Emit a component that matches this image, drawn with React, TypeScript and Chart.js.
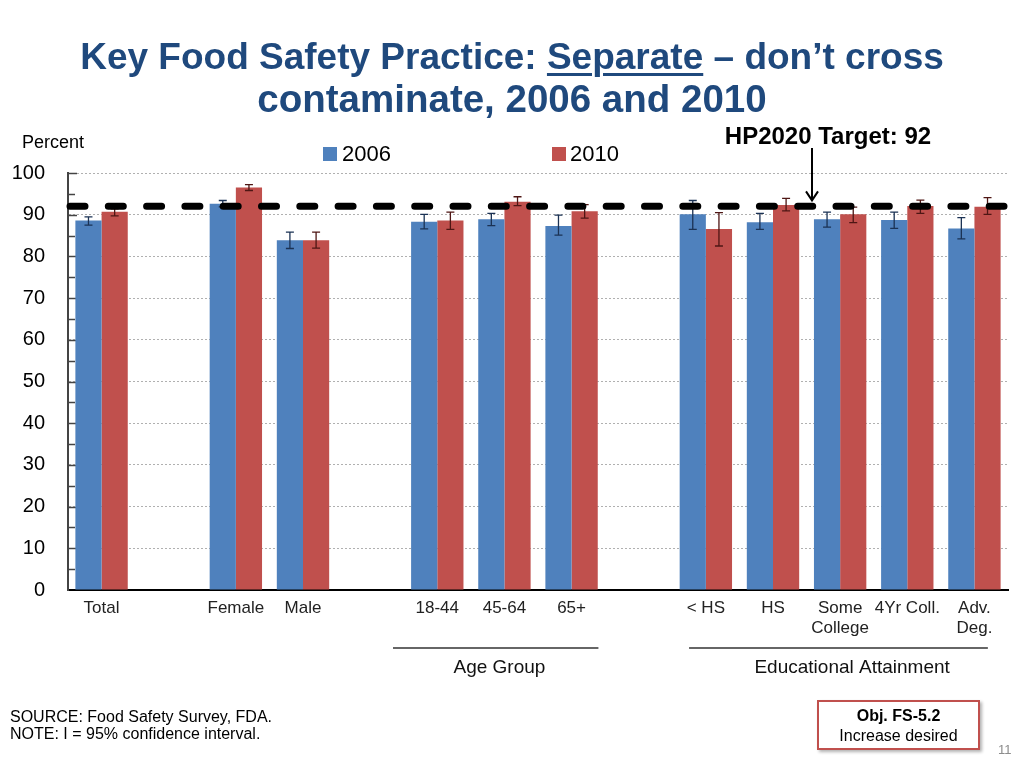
import React, { useEffect, useRef } from "react";
import { Chart, registerables } from "chart.js";
Chart.register(...registerables);

// ---- Data ----
const categories: (string | string[])[] = [
  "Total", "", "Female", "Male", "", "18-44", "45-64", "65+", "",
  "< HS", "HS", ["Some", "College"], "4Yr Coll.", ["Adv.", "Deg."],
];
const values2006 = [88.6, null, 92.6, 83.9, null, 88.3, 88.9, 87.3, null, 90.1, 88.2, 88.9, 88.7, 86.7];
const values2010 = [90.7, null, 96.5, 83.9, null, 88.6, 93.1, 90.8, null, 86.6, 92.3, 90.1, 92.1, 91.9];
const low2006 = [87.5, null, 91.9, 81.9, null, 86.6, 87.4, 85.1, null, 86.5, 86.5, 87.0, 86.7, 84.2];
const high2006 = [89.5, null, 93.4, 85.8, null, 90.1, 90.3, 89.9, null, 93.4, 90.3, 90.6, 90.6, 89.3];
const low2010 = [89.7, null, 95.8, 82.0, null, 86.5, 92.2, 89.2, null, 82.5, 90.9, 88.1, 90.3, 90.1];
const high2010 = [91.4, null, 97.2, 85.8, null, 90.6, 94.3, 92.4, null, 90.5, 93.9, 91.8, 93.5, 94.1];
const target = 92;
const seriesNames = ["2006", "2010"];
const groupLabels = ["Age Group", "Educational Attainment"];
const yTicks = { min: 0, max: 100, step: 10 };

const BLUE = "#4f81bd";
const RED = "#c0504d";
const FONT = "'Liberation Sans', Arial, sans-serif";

export default function App() {
  const ref = useRef<HTMLCanvasElement>(null);

  useEffect(() => {
    const canvas = ref.current!;

    const minorTicks = {
      id: "minorTicks",
      beforeDatasetsDraw(chart: any) {
        const { ctx, chartArea } = chart;
        const y = chart.scales.y;
        ctx.save();
        ctx.strokeStyle = "#444";
        ctx.lineWidth = 1.5;
        for (let v = yTicks.min + 5; v <= yTicks.max; v += 5) {
          const py = Math.round(y.getPixelForValue(v)) + 0.5;
          ctx.beginPath();
          ctx.moveTo(chartArea.left, py);
          ctx.lineTo(chartArea.left + (v % 10 === 0 ? 9 : 7), py);
          ctx.stroke();
        }
        ctx.restore();
      },
    };

    const errorBars = {
      id: "errorBars",
      afterDatasetsDraw(chart: any) {
        const { ctx, chartArea } = chart;
        const y = chart.scales.y;
        const sets: [any[], any[], string][] = [
          [low2006, high2006, "#1b3254"],
          [low2010, high2010, "#4e1614"],
        ];
        sets.forEach(([lo, hi, col], di) => {
          const meta = chart.getDatasetMeta(di);
          meta.data.forEach((bar: any, i: number) => {
            if (lo[i] == null || hi[i] == null) return;
            const x = bar.x;
            const yl = y.getPixelForValue(lo[i]);
            const yh = y.getPixelForValue(hi[i]);
            ctx.save();
            ctx.strokeStyle = col;
            ctx.lineWidth = 1.3;
            ctx.beginPath();
            ctx.moveTo(x, yl);
            ctx.lineTo(x, yh);
            ctx.moveTo(x - 4, yl);
            ctx.lineTo(x + 4, yl);
            ctx.moveTo(x - 4, yh);
            ctx.lineTo(x + 4, yh);
            ctx.stroke();
            ctx.restore();
          });
        });
        // target dashed line
        const yt = y.getPixelForValue(target);
        ctx.save();
        ctx.strokeStyle = "#000";
        ctx.lineWidth = 7;
        ctx.lineCap = "round";
        ctx.setLineDash([15, 23.3]);
        ctx.beginPath();
        ctx.moveTo(chartArea.left + 2, yt);
        ctx.lineTo(chartArea.right - 4, yt);
        ctx.stroke();
        ctx.restore();
      },
    };

    const groups = {
      id: "groups",
      afterDraw(chart: any) {
        const { ctx } = chart;
        const x = chart.scales.x;
        const y = chart.scales.y;
        const p = (i: number) => x.getPixelForValue(i);
        const w = p(1) - p(0);
        const lineY = 648;
        const textY = 668;
        const spans = [
          { a: p(5) - 0.66 * w, b: p(7) + 0.4 * w, c: p(6) - 5, t: groupLabels[0] },
          { a: p(9) - 0.25 * w, b: p(13) + 0.2 * w, c: p(11) + 12, t: groupLabels[1] },
        ];
        ctx.save();
        ctx.strokeStyle = "#333";
        ctx.lineWidth = 1.5;
        ctx.fillStyle = "#111";
        ctx.font = `19px ${FONT}`;
        ctx.textAlign = "center";
        ctx.textBaseline = "middle";
        spans.forEach((s) => {
          ctx.beginPath();
          ctx.moveTo(s.a, lineY);
          ctx.lineTo(s.b, lineY);
          ctx.stroke();
          ctx.fillText(s.t, s.c, textY);
        });
        // arrow to target line
        const yt = y.getPixelForValue(target);
        const ax = 812;
        ctx.strokeStyle = "#000";
        ctx.lineWidth = 2;
        ctx.beginPath();
        ctx.moveTo(ax, 148);
        ctx.lineTo(ax, yt - 6);
        ctx.moveTo(ax - 6, yt - 15);
        ctx.lineTo(ax, yt - 6);
        ctx.lineTo(ax + 6, yt - 15);
        ctx.stroke();
        ctx.restore();
      },
    };

    const chart = new Chart(canvas, {
      type: "bar",
      data: {
        labels: categories,
        datasets: [
          { label: seriesNames[0], data: values2006 as any, backgroundColor: BLUE, borderWidth: 0 },
          { label: seriesNames[1], data: values2010 as any, backgroundColor: RED, borderWidth: 0 },
        ],
      },
      options: {
        responsive: false,
        animation: false,
        events: [],
        datasets: { bar: { categoryPercentage: 0.78, barPercentage: 1.0 } },
        layout: { padding: { top: 173, left: 0, right: 16, bottom: 0 } },
        plugins: { legend: { display: false }, tooltip: { enabled: false }, title: { display: false } },
        scales: {
          x: {
            type: "category",
            grid: { display: false, drawTicks: false },
            border: { display: true, color: "#000", width: 2 },
            ticks: {
              autoSkip: false,
              maxRotation: 0,
              minRotation: 0,
              padding: 8,
              color: "#222",
              font: { family: FONT, size: 17, lineHeight: 1.2 },
            },
            afterFit: (s: any) => { s.height = 178; },
          },
          y: {
            min: yTicks.min,
            max: yTicks.max,
            ticks: {
              stepSize: yTicks.step,
              padding: 23,
              color: "#000",
              font: { family: FONT, size: 20 },
            },
            grid: { color: "#b0b0b0", lineWidth: 1, drawTicks: false },
            border: { display: true, color: "#444", width: 2, dash: [2, 2] },
            afterFit: (s: any) => { s.width = 68; },
          },
        },
      },
      plugins: [minorTicks, errorBars, groups],
    });
    return () => chart.destroy();
  }, []);

  const abs = (o: React.CSSProperties): React.CSSProperties => ({ position: "absolute", margin: 0, ...o });

  return (
    <div style={{ position: "fixed", left: 0, top: 0, width: 1024, height: 768, background: "#fff", fontFamily: FONT, overflow: "hidden" }}>
      <canvas ref={ref} width={1024} height={768} style={abs({ left: 0, top: 0, width: 1024, height: 768 })} />
      <div style={abs({ left: 0, top: 36, width: 1024, textAlign: "center", color: "#1f497d", fontWeight: "bold", fontSize: 37, lineHeight: "42px" })}>
        Key Food Safety Practice:{" "}
        <span style={{ textDecoration: "underline", textDecorationThickness: 3, textUnderlineOffset: 4 }}>Separate</span>{" "}
        – don’t cross
        <br />
        <span style={{ fontSize: 38.5 }}>contaminate, 2006 and 2010</span>
      </div>
      <div style={abs({ left: 22, top: 133, fontSize: 18, lineHeight: "18px", color: "#000" })}>Percent</div>
      <div style={abs({ left: 323, top: 147, width: 14, height: 14, background: BLUE })} />
      <div style={abs({ left: 342, top: 143, fontSize: 22, lineHeight: "22px", color: "#000" })}>{seriesNames[0]}</div>
      <div style={abs({ left: 552, top: 147, width: 14, height: 14, background: RED })} />
      <div style={abs({ left: 570, top: 143, fontSize: 22, lineHeight: "22px", color: "#000" })}>{seriesNames[1]}</div>
      <div style={abs({ left: 828, top: 124, transform: "translateX(-50%)", whiteSpace: "nowrap", fontWeight: "bold", fontSize: 24, lineHeight: "24px", color: "#000" })}>
        HP2020 Target: {target}
      </div>
      <div style={abs({ left: 10, top: 708, fontSize: 16, lineHeight: "17px", color: "#000" })}>
        SOURCE: Food Safety Survey, FDA.
        <br />
        NOTE: I = 95% confidence interval.
      </div>
      <div style={abs({ left: 817, top: 700, width: 163, height: 50, boxSizing: "border-box", border: "2px solid #c0504d", boxShadow: "2px 2px 3px rgba(0,0,0,0.3)", textAlign: "center", color: "#000", fontSize: 16, lineHeight: "20px", paddingTop: 4 })}>
        <div style={{ fontWeight: "bold" }}>Obj. FS-5.2</div>
        <div>Increase desired</div>
      </div>
      <div style={abs({ left: 998, top: 742, fontSize: 13, color: "#8c8c8c" })}>11</div>
    </div>
  );
}
